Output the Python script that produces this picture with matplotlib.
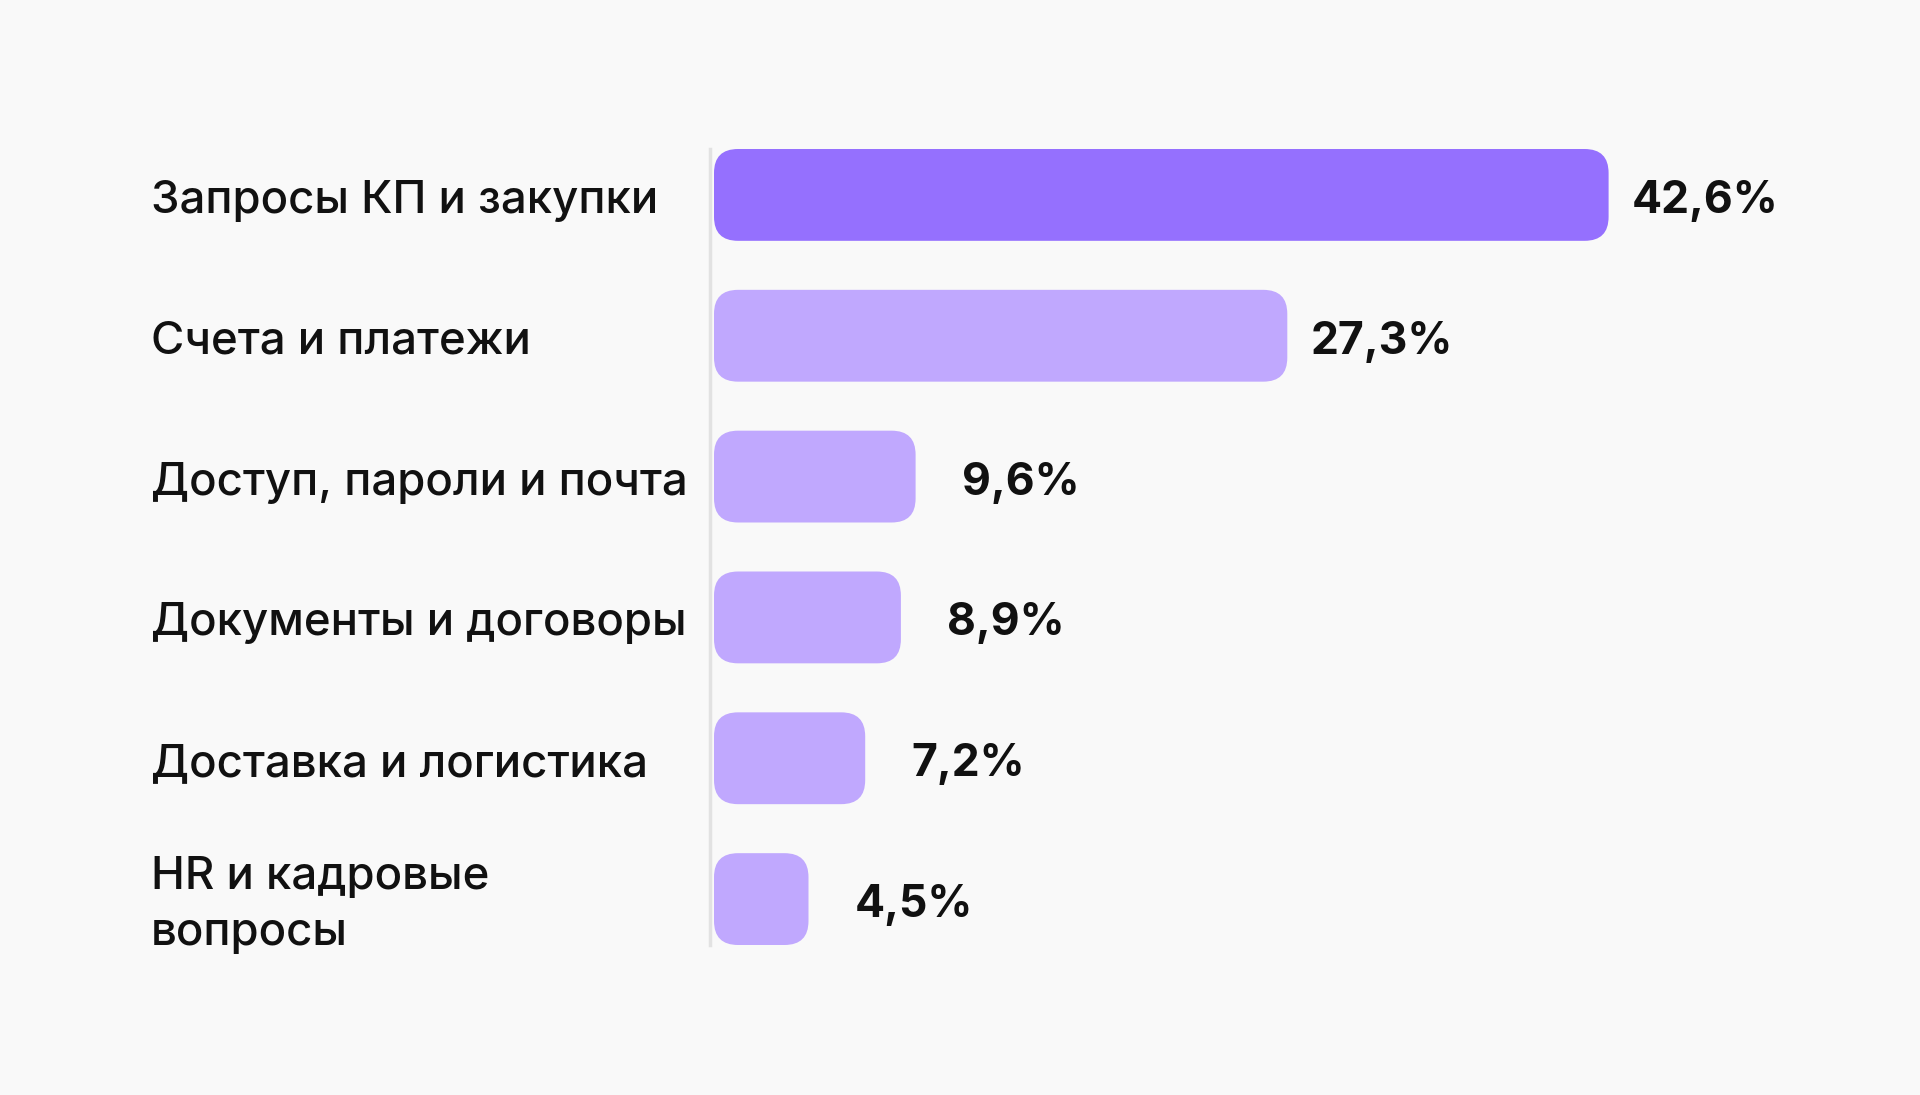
import numpy as np
import matplotlib
matplotlib.use("Agg")
import matplotlib.pyplot as plt
from matplotlib.patches import FancyBboxPatch
import matplotlib.transforms as mtransforms

categories = ["Запросы КП и закупки", "Счета и платежи", "Доступ, пароли и почта",
              "Документы и договоры", "Доставка и логистика", "HR и кадровые\nвопросы"]
values = [42.6, 27.3, 9.6, 8.9, 7.2, 4.5]
value_labels = ["42,6%", "27,3%", "9,6%", "8,9%", "7,2%", "4,5%"]

bg = "#f9f9f9"
main_color = "#9570fe"
other_color = "#c0a8fe"

plt.rcParams['font.family'] = ['Inter', 'DejaVu Sans']

W, H = 1920, 1095
fig = plt.figure(figsize=(W/100, H/100), dpi=100, facecolor=bg)
xmax = 50
px_per_unit = 21.0
ax_left = 714/W
ax_w = xmax*px_per_unit/W
ax = fig.add_axes([ax_left, 150/H, ax_w, 796/H])
ax.set_facecolor(bg)

y = np.arange(len(values))
bar_h = 0.652
colors = [main_color] + [other_color]*(len(values)-1)
bars = ax.barh(y, values, height=bar_h, color=colors)
ax.set_xlim(0, xmax)
ax.set_ylim(len(values)-1+bar_h/2, -bar_h/2)

# swap plain bars for rounded ones
ypx_per_unit = 796/(len(values)-1+bar_h)
radius = 24/px_per_unit
aspect = px_per_unit/ypx_per_unit
for b, c in zip(bars, colors):
    b.set_visible(False)
    p = FancyBboxPatch((b.get_x(), b.get_y()), b.get_width(), b.get_height(),
                       boxstyle=f"round,pad=0,rounding_size={radius}",
                       mutation_aspect=aspect, facecolor=c, edgecolor="none")
    ax.add_patch(p)

# nudge text a bit down so caps sit centred on bars
shift = mtransforms.ScaledTranslation(0, -6/100, fig.dpi_scale_trans)

for i, (v, lab) in enumerate(zip(values, value_labels)):
    off = 1.1 if v > 20 else 2.2
    ax.text(v+off, i, lab, ha="left", va="center", fontsize=32,
            fontweight="bold", color="#111111", transform=ax.transData + shift)

trans = mtransforms.blended_transform_factory(fig.transFigure, ax.transData) + shift
for i, cat in enumerate(categories):
    ax.text(151/W, i, cat, transform=trans, ha="left", va="center",
            fontsize=32.8, fontweight="medium", color="#111111", linespacing=1.4)

for s in ["top", "right", "bottom"]:
    ax.spines[s].set_visible(False)
ax.spines["left"].set_color("#e2e2e2")
ax.spines["left"].set_linewidth(2.5)
ax.spines["left"].set_position(("outward", 3))
ax.set_xticks([])
ax.set_yticks([])

fig.savefig("out.png", dpi=100, facecolor=bg)
